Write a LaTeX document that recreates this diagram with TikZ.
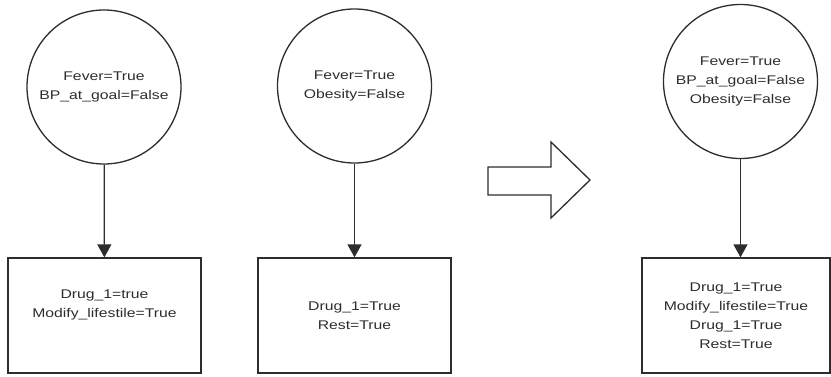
\documentclass[tikz,border=0pt]{standalone}
\usepackage{fontspec}
\usepackage{xcolor}
\usepackage{tikz}
\usetikzlibrary{positioning,arrows.meta,calc}
\newfontfamily\diagfont[FakeStretch=1.25]{Liberation Sans}
\definecolor{inkclr}{RGB}{45,45,45}
\tikzset{
  cond/.style={circle,draw=inkclr,line width=1.3pt,minimum size=154pt,
               inner sep=0pt,align=center,text=inkclr},
  act/.style={rectangle,draw=inkclr,line width=1.3pt,minimum width=193pt,
              minimum height=115pt,inner sep=0pt,align=center,text=inkclr},
  edge/.style={-{Triangle[length=13pt,width=14pt]},line width=1.3pt,draw=inkclr},
}

\begin{document}
\begin{tikzpicture}[x=1pt, y=1pt, font=\diagfont\fontsize{12.6}{19}\selectfont]
\useasboundingbox (0,0) rectangle (831,376);

% Rule 1
\node[cond] (c1) at (104,289) {Fever=True\\BP\_at\_goal=False};
\node[act]  (a1) at (104.5,60.5) {Drug\_1=true\\Modify\_lifestile=True\\[4pt]\mbox{}};
\draw[edge] (c1) -- (a1);

% Rule 2
\node[cond] (c2) at (354.5,290) {Fever=True\\Obesity=False};
\node[act]  (a2) at (354.5,60.5) {Drug\_1=True\\Rest=True};
\draw[edge] (c2) -- (a2);

% Merge arrow
\draw[draw=inkclr,line width=1.3pt,fill=white]
  (488,209) -- (551,209) -- (551,234) -- (590,196) -- (551,158)
  -- (551,181) -- (488,181) -- cycle;

% Merged rule
\node[cond] (c3) at (740.5,294.5) {Fever=True\\BP\_at\_goal=False\\Obesity=False};
\node[act,minimum width=188pt] (a3) at (736,60.5)
  {Drug\_1=True\\Modify\_lifestile=True\\Drug\_1=True\\Rest=True};
\draw[edge] (c3.south) -- (c3.south |- a3.north);
\end{tikzpicture}
\end{document}
